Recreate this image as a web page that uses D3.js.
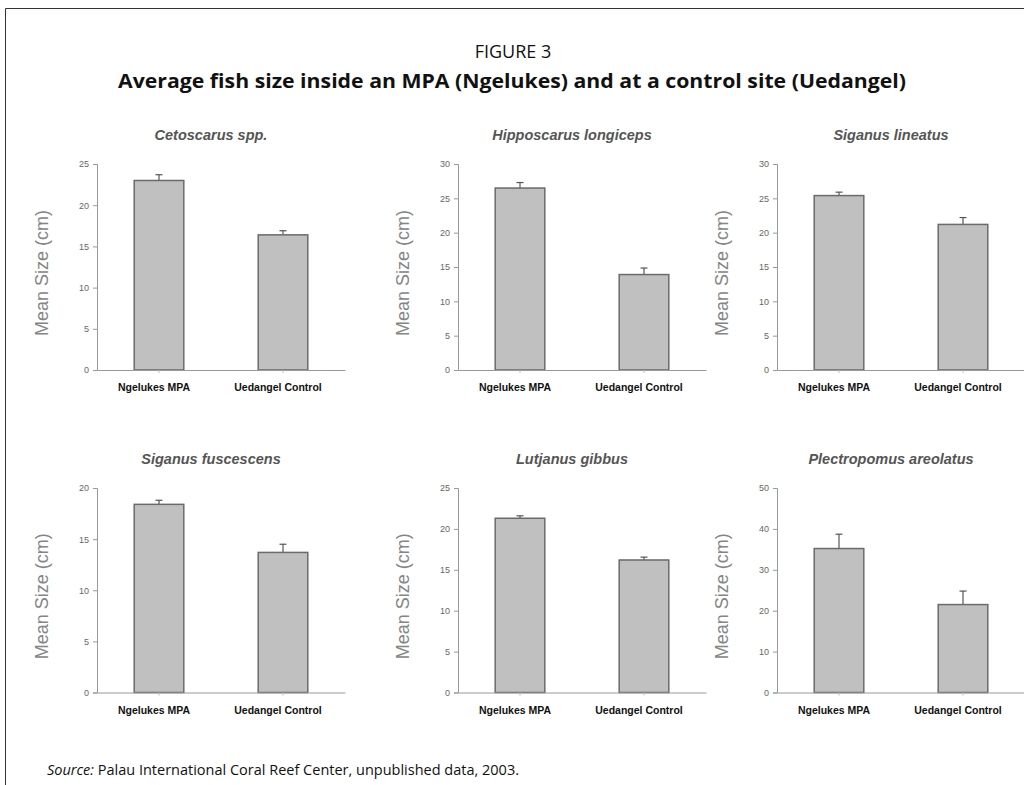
<!DOCTYPE html>
<html>
<head>
<meta charset="utf-8">
<script src="https://cdn.jsdelivr.net/npm/d3@7"></script>
<style>
  body { margin: 0; background: #fff; }
</style>
</head>
<body>
<div id="chart"></div>
<script>
var width = 1024, height = 785;

// chart data
var species = ["Cetoscarus spp.", "Hipposcarus longiceps", "Siganus lineatus",
               "Siganus fuscescens", "Lutjanus gibbus", "Plectropomus areolatus"];
var sites = ["Ngelukes MPA", "Uedangel Control"];
var mpaMeans = [23.0, 26.5, 25.4, 18.4, 21.3, 35.2];
var mpaErr = [0.7, 0.8, 0.5, 0.4, 0.3, 3.5];
var controlMeans = [16.4, 13.9, 21.2, 13.7, 16.2, 21.5];
var controlErr = [0.5, 0.95, 1.0, 0.8, 0.35, 3.3];
var yMax = [25, 30, 30, 20, 25, 50];
var yStep = [5, 5, 5, 5, 5, 10];

// panel placement
var colX = [97, 458, 777];
var rowY = [[164, 370], [488, 692.5]];
var plotW = 248;

var svg = d3.select("#chart")
  .append("svg")
    .attr("width", width)
    .attr("height", height)
    .style("background-color", "#fff");

// frame
svg.append("path")
  .attr("d", "M5.5," + height + " L5.5,8.5 L" + width + ",8.5")
  .attr("fill", "none")
  .attr("stroke", "#333")
  .attr("stroke-width", 1);

svg.append("text")
  .attr("x", 513).attr("y", 58)
  .attr("text-anchor", "middle")
  .style("font-family", "Open Sans")
  .style("font-size", "18px")
  .attr("fill", "#111")
  .text("FIGURE 3");

svg.append("text")
  .attr("x", 512).attr("y", 88)
  .attr("text-anchor", "middle")
  .attr("textLength", 788)
  .attr("lengthAdjust", "spacingAndGlyphs")
  .style("font-family", "Open Sans")
  .style("font-weight", "bold")
  .style("font-size", "19.5px")
  .attr("fill", "#111")
  .text("Average fish size inside an MPA (Ngelukes) and at a control site (Uedangel)");

var src = svg.append("text")
  .attr("x", 47).attr("y", 775)
  .style("font-family", "Open Sans")
  .style("font-size", "14.5px")
  .attr("fill", "#111");
src.append("tspan").style("font-style", "italic").text("Source:");
src.append("tspan").text(" Palau International Coral Reef Center, unpublished data, 2003.");

species.forEach(function(name, i) {
  var x0 = colX[i % 3];
  var rows = rowY[Math.floor(i / 3)];

  var x = d3.scaleBand()
    .domain(sites)
    .range([x0, x0 + plotW])
    .paddingInner(0.6)
    .paddingOuter(0.3);

  var y = d3.scaleLinear()
    .domain([0, yMax[i]])
    .range([rows[1], rows[0]]);

  var g = svg.append("g");

  var data = [
    {site: sites[0], mean: mpaMeans[i], err: mpaErr[i]},
    {site: sites[1], mean: controlMeans[i], err: controlErr[i]}
  ];

  // error bars (upper whisker)
  g.selectAll("line.err")
    .data(data)
    .enter().append("line")
      .attr("class", "err")
      .attr("x1", function(d) { return x(d.site) + x.bandwidth() / 2; })
      .attr("x2", function(d) { return x(d.site) + x.bandwidth() / 2; })
      .attr("y1", function(d) { return y(d.mean); })
      .attr("y2", function(d) { return y(d.mean + d.err); })
      .attr("stroke", "#555")
      .attr("stroke-width", 1.2);
  g.selectAll("line.cap")
    .data(data)
    .enter().append("line")
      .attr("class", "cap")
      .attr("x1", function(d) { return x(d.site) + x.bandwidth() / 2 - 3.5; })
      .attr("x2", function(d) { return x(d.site) + x.bandwidth() / 2 + 3.5; })
      .attr("y1", function(d) { return y(d.mean + d.err); })
      .attr("y2", function(d) { return y(d.mean + d.err); })
      .attr("stroke", "#555")
      .attr("stroke-width", 1.2);

  g.selectAll("rect")
    .data(data)
    .enter().append("rect")
      .attr("x", function(d) { return x(d.site); })
      .attr("y", function(d) { return y(d.mean); })
      .attr("width", x.bandwidth())
      .attr("height", function(d) { return y(0) - y(d.mean); })
      .attr("fill", "#c0c0c0")
      .attr("stroke", "#6a6a6a")
      .attr("stroke-width", 1.5);

  // y axis
  var yAxis = g.append("g")
    .attr("transform", "translate(" + x0 + ",0)")
    .call(d3.axisLeft(y).tickValues(d3.range(0, yMax[i] + 0.01, yStep[i])).tickSize(4).tickPadding(4));
  yAxis.select(".domain").attr("stroke", "#999");
  yAxis.selectAll(".tick line").attr("stroke", "#999");
  yAxis.selectAll(".tick text")
    .attr("fill", "#666")
    .style("font-family", "Liberation Sans")
    .style("font-size", "9px");

  // x axis
  var xAxis = g.append("g")
    .attr("transform", "translate(0," + rows[1] + ")")
    .call(d3.axisBottom(x).tickSize(3).tickSizeOuter(0).tickPadding(11));
  xAxis.select(".domain").attr("stroke", "#999").attr("stroke-width", 1.2);
  xAxis.selectAll(".tick line").attr("stroke", "#bbb");
  xAxis.selectAll(".tick text")
    .attr("fill", "#111")
    .attr("dx", "-5")
    .style("font-family", "Liberation Sans")
    .style("font-weight", "bold")
    .style("font-size", "10.5px");

  // axis label
  g.append("text")
    .attr("transform", "translate(" + (x0 - 49) + "," + ((rows[0] + rows[1]) / 2 + 6) + ") rotate(-90)")
    .attr("text-anchor", "middle")
    .style("font-family", "Liberation Sans")
    .style("font-size", "18px")
    .attr("fill", "#858585")
    .text("Mean Size (cm)");

  // panel title
  g.append("text")
    .attr("x", x0 + plotW / 2 - 10)
    .attr("y", rows[0] - 24)
    .attr("text-anchor", "middle")
    .style("font-family", "Liberation Sans")
    .style("font-style", "italic")
    .style("font-weight", "bold")
    .style("font-size", "14.5px")
    .attr("fill", "#555")
    .text(name);
});
</script>
</body>
</html>
